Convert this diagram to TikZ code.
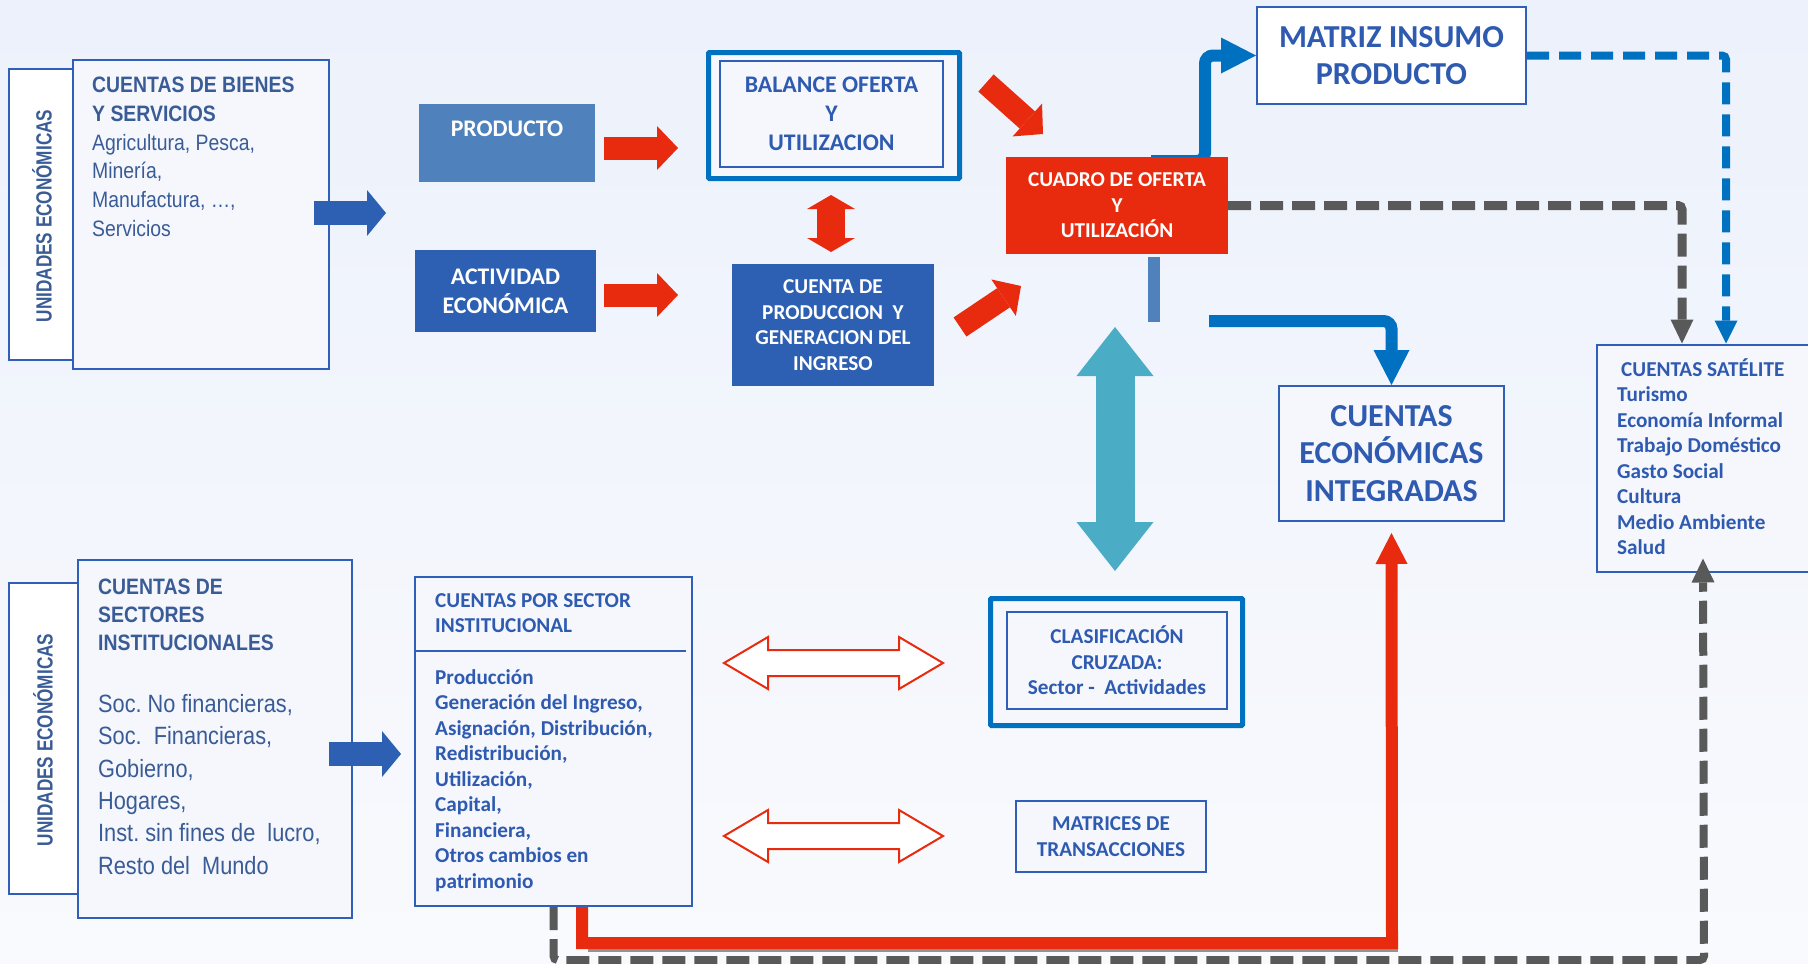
\documentclass[tikz,border=0pt]{standalone}
\usepackage{fontspec}
\setmainfont{Carlito}
\newfontfamily\narrowfont[FakeStretch=0.87]{Liberation Sans}
\newfontfamily\vertfont[FakeStretch=0.78]{Liberation Sans}
\usetikzlibrary{arrows.meta,calc}

\definecolor{bgtop}{RGB}{236,241,251}
\definecolor{bgbot}{RGB}{249,250,253}
\definecolor{boxbg}{RGB}{245,247,253}
\definecolor{boxblue}{RGB}{47,95,185}
\definecolor{deepblue}{RGB}{0,112,192}
\definecolor{prodblue}{RGB}{79,129,189}
\definecolor{actblue}{RGB}{45,96,178}
\definecolor{cuadrored}{RGB}{232,43,14}
\definecolor{tealarrow}{RGB}{75,172,198}
\definecolor{dashgray}{RGB}{89,89,89}
\definecolor{txtblue}{RGB}{46,90,176}
\definecolor{txtsteel}{RGB}{58,92,150}

\begin{document}
\frenchspacing
\begin{tikzpicture}[x=1pt,y=-1pt,
  lightbox/.style={draw=boxblue,line width=2pt,fill=boxbg,inner sep=0pt},
  darkbox/.style={inner sep=0pt,text=white,align=center},
  thickframe/.style={draw=deepblue,line width=5pt,rounded corners=1pt,fill=boxbg,inner sep=0pt},
  calsmall/.style={font=\bfseries\fontsize{21.2}{25.5}\selectfont},
  calmid/.style={font=\bfseries\fontsize{23.8}{29}\selectfont},
  calbig/.style={font=\bfseries\fontsize{32}{37.5}\selectfont},
  bluefat/.style={actblue,line width=24pt,-{Triangle[width=46pt,length=19pt,line width=0pt]}},
  redfat/.style={cuadrored,line width=23pt,-{Triangle[width=44pt,length=21pt,line width=0pt]}},
  deepline/.style={deepblue,line width=12pt,rounded corners=8pt,-{Triangle[width=36pt,length=35pt,line width=0pt]}},
  graydash/.style={dashgray,line width=9pt,dash pattern=on 23pt off 9pt,rounded corners=4pt,-{Triangle[width=23pt,length=24pt,line width=0pt]}}]

\useasboundingbox (0,0) rectangle (1808,964);
\shade[top color=bgtop,bottom color=bgbot] (0,0) rectangle (1808,964);

% left column
\node[lightbox,fill=white,minimum width=64pt,minimum height=291pt] (unidA) at (41,214.5) {};
\node[lightbox,minimum width=256pt,minimum height=309pt] (bienes) at (201,214.5) {};
\node[rotate=90,inner sep=0pt,text=txtsteel,font=\vertfont\bfseries\fontsize{22}{26}\selectfont] (unidAtxt) at (42,216) {UNIDADES ECONÓMICAS};
\node[anchor=north west,inner sep=0pt,align=left,text=txtsteel,font=\narrowfont\fontsize{22.3}{28.7}\selectfont] (bienestxt) at (92,77)
  {\textbf{CUENTAS DE BIENES}\\\textbf{Y SERVICIOS}\\Agricultura, Pesca,\\Minería,\\Manufactura, …,\\Servicios};

\node[lightbox,fill=white,minimum width=69pt,minimum height=311pt] (unidB) at (43.5,738.5) {};
\node[lightbox,minimum width=274pt,minimum height=358pt] (sectores) at (215,739) {};
\node[rotate=90,inner sep=0pt,text=txtsteel,font=\vertfont\bfseries\fontsize{22}{26}\selectfont] (unidBtxt) at (43,740) {UNIDADES ECONÓMICAS};
\node[anchor=north west,inner sep=0pt,align=left,text=txtsteel,font=\narrowfont\bfseries\fontsize{22.3}{28}\selectfont] (sectorestit) at (98,579)
  {CUENTAS DE\\SECTORES\\INSTITUCIONALES};
\node[anchor=north west,inner sep=0pt,align=left,text=txtsteel,font=\narrowfont\fontsize{25}{32.4}\selectfont] (sectorestxt) at (98,694)
  {Soc. No financieras,\\Soc.~ Financieras,\\Gobierno,\\Hogares,\\Inst. sin fines de~ lucro,\\Resto del~ Mundo};

% top row
\node[darkbox,fill=prodblue,minimum width=176pt,minimum height=78pt] (prod) at (507,143) {};
\node[darkbox,calmid] (prodtxt) at (507,129) {PRODUCTO};
\node[darkbox,fill=actblue,calmid,minimum width=181pt,minimum height=82pt] (activ) at (505.5,291) {ACTIVIDAD\\ECONÓMICA};
\node[thickframe,minimum width=251pt,minimum height=126pt] (balout) at (834,115.5) {};
\node[draw=boxblue,line width=1.5pt,inner sep=0pt,align=center,text=txtblue,calmid,minimum width=223pt,minimum height=106pt] (balin) at (831.5,114)
  {BALANCE OFERTA\\Y\\UTILIZACION};
\node[darkbox,fill=actblue,calsmall,minimum width=202pt,minimum height=122pt] (cuenprod) at (833,325)
  {CUENTA DE\\PRODUCCION~ Y\\GENERACION DEL\\INGRESO};
\node[draw=boxblue,line width=2pt,fill=white,inner sep=0pt,align=center,text=txtblue,calbig,minimum width=269pt,minimum height=97pt] (matriz) at (1391.5,55.5)
  {MATRIZ INSUMO\\PRODUCTO};

\coordinate (mtxfoot) at (1151,161);
\draw[deepline] (mtxfoot) -- (1205,161) |- (matriz.west);
\node[darkbox,fill=cuadrored,calsmall,minimum width=222pt,minimum height=97pt] (cuadro) at (1117,205.5)
  {CUADRO DE OFERTA\\Y\\UTILIZACIÓN};

% right side
\node[lightbox,align=center,text=txtblue,calbig,minimum width=225pt,minimum height=135pt] (cei) at (1391.5,453.5)
  {CUENTAS\\ECONÓMICAS\\INTEGRADAS};
\node[lightbox,minimum width=232pt,minimum height=227pt] (satel) at (1713,458) {};
\node[anchor=north west,inner sep=0pt,align=left,text=txtblue,calsmall] (sateltxt) at (1617,358)
  {\hspace*{4pt}CUENTAS SATÉLITE\\Turismo\\Economía Informal\\Trabajo Doméstico\\Gasto Social\\Cultura\\Medio Ambiente\\Salud};

% bottom middle
\node[lightbox,minimum width=277pt,minimum height=329pt] (porsector) at (553.5,741.5) {};
\draw[boxblue,line width=2pt] ($(porsector.north west)+(0,75)$) -- ($(porsector.north east)+(-7,75)$);
\node[anchor=north west,inner sep=0pt,align=left,text=txtblue,calsmall] (porsectortit) at (435,593)
  {CUENTAS POR SECTOR\\INSTITUCIONAL};
\node[anchor=north west,inner sep=0pt,align=left,text=txtblue,calsmall] (porsectortxt) at (435,669)
  {Producción\\Generación del Ingreso,\\Asignación, Distribución,\\Redistribución,\\Utilización,\\Capital,\\Financiera,\\Otros cambios en\\patrimonio};
\node[thickframe,minimum width=252pt,minimum height=127pt] (clasout) at (1116.5,662) {};
\node[draw=boxblue,line width=1.5pt,inner sep=0pt,align=center,text=txtblue,calsmall,minimum width=220pt,minimum height=97pt] (clasin) at (1117,660.5)
  {CLASIFICACIÓN\\CRUZADA:\\Sector -~ Actividades};
\node[lightbox,align=center,text=txtblue,calsmall,minimum width=190pt,minimum height=71pt] (matrices) at (1111,836.5)
  {MATRICES DE\\TRANSACCIONES};

% block arrows
\coordinate (a1s) at (314,213);  \coordinate (a1e) at (386,213);
\coordinate (a2s) at (329,754);  \coordinate (a2e) at (401,754);
\coordinate (r1s) at (604,148);  \coordinate (r1e) at (678,148);
\coordinate (r2s) at (604,295);  \coordinate (r2e) at (678,295);
\coordinate (r3s) at (986,83);   \coordinate (r3e) at (1043,134);
\coordinate (r4s) at (960,327);  \coordinate (r4e) at (1021,286);
\foreach \from/\to in {a1s/a1e,a2s/a2e}
  \draw[bluefat] (\from) -- (\to);
\foreach \from/\to in {r1s/r1e,r2s/r2e,r3s/r3e,r4s/r4e}
  \draw[redfat] (\from) -- (\to);
\draw[cuadrored,line width=28pt,{Triangle[width=48pt,length=14pt,line width=0pt]}-{Triangle[width=48pt,length=14pt,line width=0pt]}]
  (831,195) -- (831,252);
\draw[tealarrow,line width=39pt,{Triangle[width=77pt,length=49pt,line width=0pt]}-{Triangle[width=77pt,length=49pt,line width=0pt]}]
  (1115,327) -- (1115,571);
\foreach \cy in {663,836}
  \draw[cuadrored,line width=2pt,fill=white]
    (724,\cy) -- (768,\cy-26) -- (768,\cy-13) -- (899,\cy-13) -- (899,\cy-26) -- (943,\cy)
    -- (899,\cy+26) -- (899,\cy+13) -- (768,\cy+13) -- (768,\cy+26) -- cycle;

% connectors
\draw[prodblue,line width=12pt] (1154,257) -- (1154,322);
\coordinate (ceistart) at (1209,321);
\draw[deepline] (ceistart) -| (cei.north);
\coordinate (satin1) at ($(satel.north west)+(130,0)$);
\coordinate (satin2) at ($(satel.north west)+(86,0)$);
\coordinate (satin3) at ($(satel.south west)+(107,-14)$);
\draw[deepblue,line width=8pt,dash pattern=on 22pt off 10pt,rounded corners=4pt,-{Triangle[width=23pt,length=23pt,line width=0pt]}]
  (matriz.east) -| (satin1);
\draw[graydash] (cuadro.east) -| (satin2);

\coordinate (redstart) at ($(porsector.south)+(28.5,0)$);
\coordinate (redcorner) at (1392,943);
\coordinate (ceiin) at ($(cei.south)+(0,11)$);
\coordinate (graycorner) at (1704,960);
\draw[graydash,line width=8pt] (porsector.south) |- (graycorner) -- (satin3);
\draw[gray!85,line width=5pt] ($(redstart |- redcorner)+(6,6)$) -- ($(redcorner)+(6,6)$);
\draw[cuadrored,line width=12pt,-{Triangle[width=32pt,length=31pt,line width=0pt]}]
  (redstart) |- (redcorner) -- (ceiin);
\end{tikzpicture}
\end{document}
